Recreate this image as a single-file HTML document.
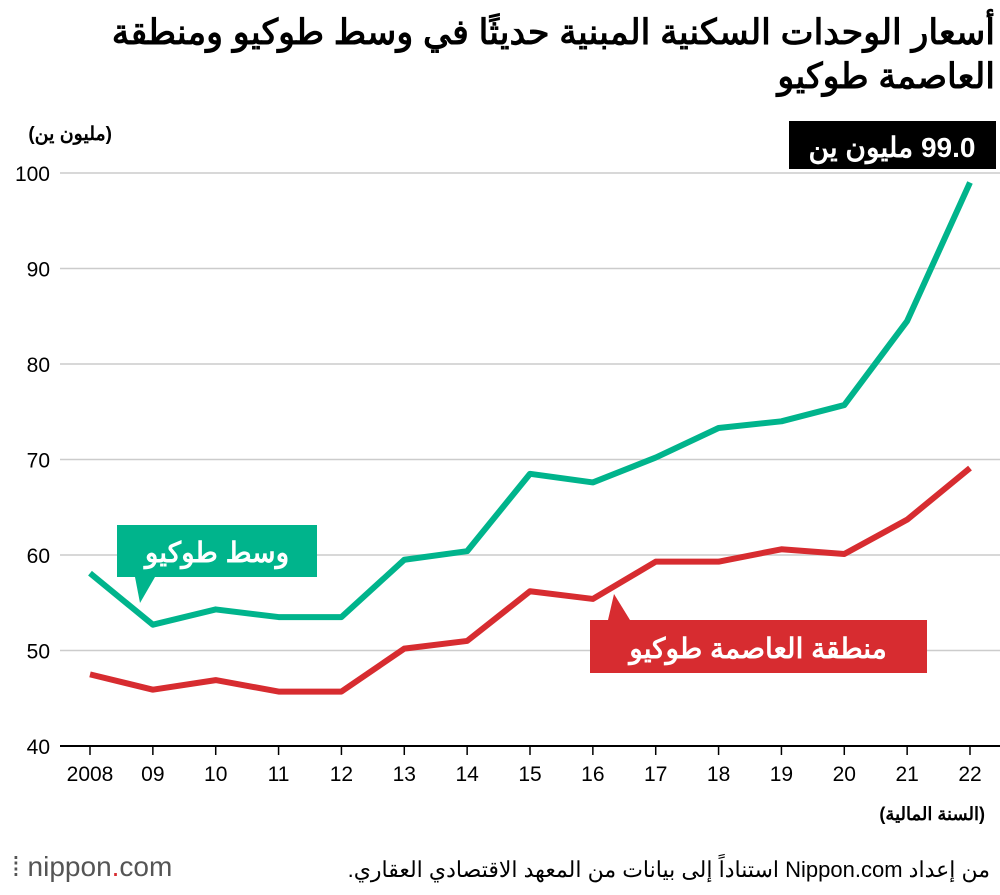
<!DOCTYPE html>
<html><head><meta charset="utf-8"><style>
body{margin:0;background:#fff;width:1000px;height:890px;overflow:hidden;font-family:"Liberation Sans","Noto Sans CJK SC",sans-serif}
svg text{font-family:"Liberation Sans","Noto Sans CJK SC",sans-serif}
</style></head><body>
<svg id="c" width="1000" height="890" xmlns="http://www.w3.org/2000/svg">
<text x="995" y="44" text-anchor="start" font-size="35" font-weight="bold" fill="#000" direction="rtl">أسعار الوحدات السكنية المبنية حديثًا في وسط طوكيو ومنطقة</text>
<text x="995" y="88" text-anchor="start" font-size="35" font-weight="bold" fill="#000" direction="rtl">العاصمة طوكيو</text>
<text x="112" y="140" font-size="19" font-weight="bold" direction="rtl" text-anchor="start">(مليون ين)</text>
<g id="grid"></g>
<g id="lines"></g>
<rect x="789" y="121" width="207" height="48" fill="#000"/>
<text x="892" y="157" text-anchor="middle" font-size="28" font-weight="bold" fill="#fff" direction="rtl">99.0 مليون ين</text>
<rect x="117" y="525" width="200" height="52" fill="#00b48c"/>
<polygon points="135,577 155,577 140,603" fill="#00b48c"/>
<text x="217" y="562" text-anchor="middle" font-size="28" font-weight="bold" fill="#fff">وسط طوكيو</text>
<rect x="590" y="620" width="337" height="53" fill="#d72c30"/>
<polygon points="608,620 630,620 614,594" fill="#d72c30"/>
<text x="758" y="658" text-anchor="middle" font-size="28" font-weight="bold" fill="#fff">منطقة العاصمة طوكيو</text>
<text x="985" y="820" text-anchor="end" font-size="18" font-weight="bold">(السنة المالية)</text>
<text x="12" y="876" font-size="28" fill="#555">⁞ nippon<tspan fill="#d72c30">.</tspan>com</text>
<text x="990" y="877" text-anchor="start" font-size="22" fill="#000" direction="rtl">من إعداد Nippon.com استناداً إلى بيانات من المعهد الاقتصادي العقاري.</text>
</svg>
<script>
const years=['2008','09','10','11','12','13','14','15','16','17','18','19','20','21','22'];
const central=[58.1,52.7,54.3,53.5,53.5,59.5,60.4,68.5,67.6,70.2,73.3,74.0,75.7,84.5,99.0];
const metro=[47.5,45.9,46.9,45.7,45.7,50.2,51.0,56.2,55.4,59.3,59.3,60.6,60.1,63.7,69.1];
const yTicks=[40,50,60,70,80,90,100];
const NS='http://www.w3.org/2000/svg';
const xs=i=>90+i*(880/14);
const ys=v=>746-(v-40)*(573/60);
function mk(t,a,p){const e=document.createElementNS(NS,t);for(const k in a)e.setAttribute(k,a[k]);p.appendChild(e);return e;}
const g=document.getElementById('grid');
yTicks.forEach(v=>{
 if(v>40){const l=mk('line',{x1:60,x2:1000,y1:ys(v),y2:ys(v),stroke:'#ccc','stroke-width':1.5},g);
 
 }
 const t=mk('text',{x:50,y:ys(v)+8,'text-anchor':'end','font-size':21},g);t.textContent=v;
 
 
});
const ax=mk('line',{x1:60,x2:1000,y1:746,y2:746,stroke:'#000','stroke-width':2},g);


years.forEach((y,i)=>{
 const tk=mk('line',{x1:xs(i),x2:xs(i),y1:746,y2:755,stroke:'#000','stroke-width':1.5},g);
 
 
 const t=mk('text',{x:xs(i),y:781,'text-anchor':'middle','font-size':21},g);t.textContent=y;
 
 
});
const L=document.getElementById('lines');
[[metro,'#d72c30','tokyo-metro-line'],[central,'#00b48c','central-tokyo-line']].forEach(([d,c,n])=>{
 const p=mk('polyline',{points:d.map((v,i)=>xs(i)+','+ys(v)).join(' '),fill:'none',stroke:c,'stroke-width':6,'stroke-linejoin':'round'},L);
 
 
});
</script>
</body></html>
